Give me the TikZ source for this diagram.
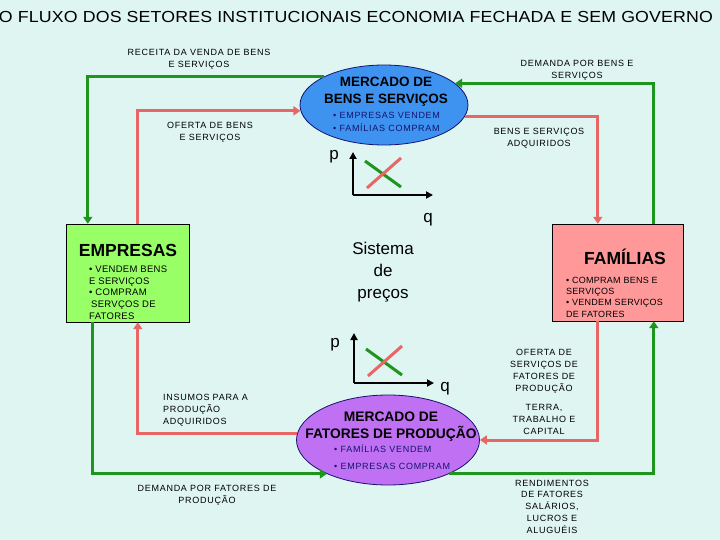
\documentclass[tikz,border=0pt]{standalone}
\usepackage{fontspec}
\setmainfont{Liberation Sans}
\newfontfamily\rotulofont[LetterSpace=8]{Liberation Sans}
\newfontfamily\caixafont[LetterSpace=3]{Liberation Sans}
\newfontfamily\titulofont[FakeStretch=1.11,LetterSpace=1]{Liberation Sans}
\usetikzlibrary{shapes.geometric,arrows.meta,positioning}

\definecolor{fundo}{RGB}{222,245,241}
\definecolor{verde}{RGB}{30,150,30}
\definecolor{vermelho}{RGB}{232,102,102}
\definecolor{azulmerc}{RGB}{62,146,240}
\definecolor{roxomerc}{RGB}{192,112,242}
\definecolor{verdecaixa}{RGB}{153,255,102}
\definecolor{rosacaixa}{RGB}{255,153,153}
\definecolor{azultexto}{RGB}{20,20,110}

\tikzset{
  fluxoverde/.style={verde, line width=3.2pt, -{Triangle[length=7pt,width=9pt]}},
  fluxovermelho/.style={vermelho, line width=3pt, -{Triangle[length=7pt,width=9pt]}},
  rotulo/.style={font=\rotulofont\fontsize{9}{12}\selectfont, align=center, inner sep=0pt},
  setor/.style={draw=black, rectangle, inner sep=0pt},
  mercado/.style={ellipse, draw=azultexto, line width=0.8pt, inner sep=0pt},
  titulosetor/.style={font=\fontsize{17.5}{20}\selectfont\bfseries, inner sep=0pt},
  titulomerc/.style={font=\fontsize{13.5}{17}\selectfont\bfseries, align=center, inner sep=0pt},
}

\begin{document}
\begin{tikzpicture}[x=1pt,y=-1pt]
    \useasboundingbox (0,0) rectangle (720,540);
    \fill[fundo] (0,0) rectangle (720,540);

    \node[font=\titulofont\fontsize{16}{16}\selectfont, inner sep=0pt] (titulo) at (356,17)
        {O FLUXO DOS SETORES INSTITUCIONAIS ECONOMIA FECHADA E SEM GOVERNO};

    % setores e mercados
    \node[setor, fill=verdecaixa, minimum width=123pt, minimum height=98pt] (empresas) at (127.5,273) {};
    \node[setor, fill=rosacaixa, minimum width=131pt, minimum height=97pt] (familias) at (617.5,272.5) {};
    \node[mercado, fill=azulmerc, minimum width=168pt, minimum height=80pt] (mercbens) at (384,105) {};
    \node[mercado, fill=roxomerc, minimum width=183pt, minimum height=90pt] (mercfat) at (388,440) {};

    % fluxos
    \draw[fluxoverde] (mercbens.155) -| ([xshift=22pt]empresas.north west);
    \draw[fluxovermelho] ([xshift=72pt]empresas.north west) |- (mercbens.184);
    \draw[fluxovermelho] (mercbens.-8) -| ([xshift=46pt]familias.north west);
    \draw[fluxoverde] ([xshift=102pt]familias.north west) |- (mercbens.17);
    \draw[fluxoverde] ([xshift=27pt]empresas.south west) |- (mercfat.209.5);
    \draw[fluxovermelho] (mercfat.176) -| ([xshift=72pt]empresas.south west);
    \draw[fluxovermelho] ([xshift=46pt]familias.south west) |- (mercfat.east);
    \draw[fluxoverde] (mercfat.-29.5) -| ([xshift=102pt]familias.south west);

    % textos dos setores
    \node[titulosetor] (tempresas) at (128,250) {EMPRESAS};
    \node[rotulo, font=\caixafont\fontsize{9.5}{11.75}\selectfont, align=left, anchor=west] (bempresas) at (89,292.5)
        {• VENDEM BENS\\E SERVIÇOS\\• COMPRAM\\\hspace{2pt}SERVÇOS DE\\FATORES};
    \node[titulosetor] (tfamilias) at (625,257) {FAMÍLIAS};
    \node[rotulo, font=\caixafont\fontsize{9}{11.3}\selectfont, align=left, anchor=west] (bfamilias) at (566,297)
        {• COMPRAM BENS E\\SERVIÇOS\\• VENDEM SERVIÇOS\\DE FATORES};

    \node[titulomerc] (tmercbens) at (386,91.5) {MERCADO DE\\BENS E SERVIÇOS};
    \node[rotulo, text=azultexto, align=left, anchor=west, font=\rotulofont\fontsize{9}{13}\selectfont] (bmercbens) at (333,121.5)
        {• EMPRESAS VENDEM\\• FAMÍLIAS COMPRAM};
    \node[titulomerc, font=\fontsize{13.8}{17}\selectfont\bfseries] (tmercfat) at (391,426.5) {MERCADO DE\\FATORES DE PRODUÇÃO};
    \node[rotulo, text=azultexto, align=left, anchor=west, font=\rotulofont\fontsize{9}{17}\selectfont] (bmercfat) at (334,457.5)
        {• FAMÍLIAS VENDEM\\• EMPRESAS COMPRAM};

    \node[font=\fontsize{17}{22}\selectfont, align=center, inner sep=0pt] (sistema) at (383,272)
        {Sistema\\de\\preços};

    % rotulos dos fluxos
    \node[rotulo] (receita) at (199,59) {RECEITA DA VENDA DE BENS\\E SERVIÇOS};
    \node[rotulo, font=\rotulofont\fontsize{9}{11.5}\selectfont] (ofertabens) at (210,132.5) {OFERTA DE BENS\\E SERVIÇOS};
    \node[rotulo] (demandabens) at (577,70) {DEMANDA POR BENS E\\SERVIÇOS};
    \node[rotulo] (bensadq) at (539,138) {BENS E SERVIÇOS\\ADQUIRIDOS};
    \node[rotulo, align=left, anchor=west] (insumos) at (163,410) {INSUMOS PARA A\\PRODUÇÃO\\ADQUIRIDOS};
    \node[rotulo] (demandafat) at (207,495) {DEMANDA POR FATORES DE\\PRODUÇÃO};
    \node[rotulo] (ofertafat) at (544,371) {OFERTA DE\\SERVIÇOS DE\\FATORES DE\\PRODUÇÃO};
    \node[rotulo] (terra) at (544,419) {TERRA,\\TRABALHO E\\CAPITAL};
    \node[rotulo, font=\rotulofont\fontsize{9}{11.75}\selectfont] (rendimentos) at (552,506.5)
        {RENDIMENTOS\\DE FATORES\\SALÁRIOS,\\LUCROS E\\ALUGUÉIS};

    % graficos de preco
    \foreach \ox/\oy/\qx/\qy/\h in {353/195/428/220/43, 354/383/445/389/50} {
        \draw[line width=1.8pt, -{Triangle[length=7pt,width=7pt]}] (\ox,\oy) -- (\ox,\oy-\h);
        \draw[line width=1.8pt, -{Triangle[length=7pt,width=7pt]}] (\ox,\oy) -- (\ox+80,\oy);
        \draw[verde, line width=3pt] (\ox+12,\oy-34) -- (\ox+48,\oy-8);
        \draw[vermelho, line width=3pt] (\ox+14,\oy-7) -- (\ox+48,\oy-37);
        \node[font=\fontsize{17}{17}\selectfont, inner sep=0pt] at (\ox-19,\oy-38) {p};
        \node[font=\fontsize{17}{17}\selectfont, inner sep=0pt] at (\qx,\qy) {q};
    }
\end{tikzpicture}
\end{document}
